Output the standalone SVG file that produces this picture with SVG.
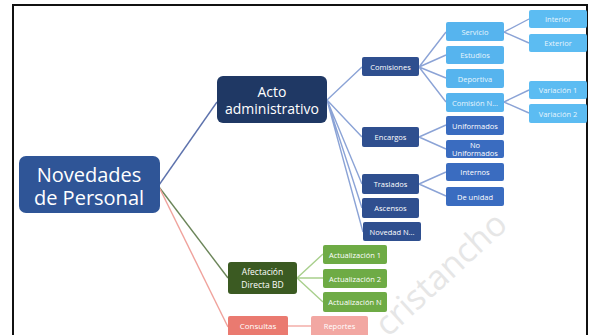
<svg xmlns="http://www.w3.org/2000/svg" width="596" height="335" viewBox="0 0 596 335">
<style>
text{font-family:"Open Sans","Liberation Sans",sans-serif;text-anchor:middle;fill:#fff}
.s{font-size:7.5px}
.navy{fill:#1f3864}
.dk{fill:#2f4f8f}
.md{fill:#3a6cc0}
.lt{fill:#56b4ee}
.lt2{fill:#5cbcf2}
.gd{fill:#3b5a22}
.gl{fill:#6eab45}
.ps{fill:#ea7a70}
.pl{fill:#f2a7a2}
.lb{stroke:#8ba3d6;stroke-width:1.4;fill:none}
.lg{stroke:#a8cf8c;stroke-width:1.4;fill:none}
.lp{stroke:#f3a8a3;stroke-width:1.4;fill:none}
.ltt{fill:#e6f4fd}
</style>
<rect x="0" y="0" width="596" height="335" fill="#fff"/>
<path d="M13 340 V5 H587 V340" fill="none" stroke="#111" stroke-width="2"/>
<text x="388" y="338" transform="rotate(-42.5 388 338)" style="font-size:34px;fill:#e6e6e6;text-anchor:start">cristancho</text>
<g id="connectors">
<path class="lb" d="M159 185 L217 102" style="stroke:#5e73ad"/>
<path class="lg" d="M159 187 L228 278" style="stroke:#6b8559"/>
<path class="lp" d="M159 187 L228 327" style="stroke:#f0a29c"/>
<path class="lb" d="M327 100 L362 67 M327 100 L362 137 M327 100 L362 184 M327 100 L362 208 M327 100 L363 232"/>
<path class="lb" d="M419 67 L446 32 M419 67 L446 55 M419 67 L446 78 M419 67 L446 102"/>
<path class="lb" d="M504 32 L529 19 M504 32 L529 43 M504 102 L529 90 M504 102 L529 113"/>
<path class="lb" d="M419 137 L446 125 M419 137 L446 149 M419 184 L446 172 M419 184 L446 196"/>
<path class="lg" d="M297 278 L323 254 M297 278 L323 278 M297 278 L323 302"/>
<path class="lp" d="M288 326 L311 326"/>
</g>
<g id="root"><rect x="19" y="156" width="141" height="57" rx="7" fill="#2f5597"/><text x="89" y="182" style="font-size:20px">Novedades</text><text x="89" y="205" style="font-size:20px">de Personal</text></g>
<g id="acto"><rect class="navy" x="217" y="76" width="110" height="47" rx="6"/><text x="272" y="97" style="font-size:14px">Acto</text><text x="272" y="114" style="font-size:14px">administrativo</text></g>
<g id="comisiones"><rect class="dk" x="362" y="57" width="57" height="19" rx="2"/><text class="s" x="390.5" y="69.5">Comisiones</text></g>
<g id="encargos"><rect class="dk" x="362" y="127" width="57" height="20" rx="2"/><text class="s" x="390.5" y="140">Encargos</text></g>
<g id="traslados"><rect class="dk" x="362" y="174" width="57" height="20" rx="2"/><text class="s" x="390.5" y="187">Traslados</text></g>
<g id="ascensos"><rect class="dk" x="362" y="198" width="57" height="20" rx="2"/><text class="s" x="390.5" y="211">Ascensos</text></g>
<g id="novedadn"><rect class="dk" x="363" y="222" width="58" height="19" rx="2"/><text class="s" x="392" y="234.5">Novedad N...</text></g>
<g id="servicio"><rect class="lt" x="446" y="22" width="58" height="19" rx="2"/><text class="s ltt" x="475" y="34.5">Servicio</text></g>
<g id="estudios"><rect class="lt" x="446" y="46" width="58" height="18" rx="2"/><text class="s ltt" x="475" y="58">Estudios</text></g>
<g id="deportiva"><rect class="lt" x="446" y="69" width="58" height="19" rx="2"/><text class="s ltt" x="475" y="81.5">Deportiva</text></g>
<g id="comisionn"><rect class="lt" x="446" y="93" width="58" height="19" rx="2"/><text class="s ltt" x="475" y="105.5">Comisión N...</text></g>
<g id="interior"><rect class="lt2" x="529" y="10" width="58" height="18" rx="2"/><text class="s ltt" x="558" y="22">Interior</text></g>
<g id="exterior"><rect class="lt2" x="529" y="34" width="58" height="18" rx="2"/><text class="s ltt" x="558" y="46">Exterior</text></g>
<g id="variacion1"><rect class="lt2" x="529" y="81" width="58" height="18" rx="2"/><text class="s ltt" x="558" y="93">Variación 1</text></g>
<g id="variacion2"><rect class="lt2" x="529" y="104" width="58" height="19" rx="2"/><text class="s ltt" x="558" y="116.5">Variación 2</text></g>
<g id="uniformados"><rect class="md" x="446" y="116" width="58" height="19" rx="2"/><text class="s" x="475" y="128.5">Uniformados</text></g>
<g id="nouniformados"><rect class="md" x="446" y="140" width="58" height="18" rx="2"/><text class="s" x="475" y="147.5">No</text><text class="s" x="475" y="155.5">Uniformados</text></g>
<g id="internos"><rect class="md" x="446" y="163" width="58" height="18" rx="2"/><text class="s" x="475" y="175">Internos</text></g>
<g id="deunidad"><rect class="md" x="446" y="187" width="58" height="19" rx="2"/><text class="s" x="475" y="199.5">De unidad</text></g>
<g id="afectacion"><rect class="gd" x="228" y="262" width="69" height="32" rx="3"/><text x="262.5" y="275" style="font-size:8.5px">Afectación</text><text x="262.5" y="288" style="font-size:8.5px">Directa BD</text></g>
<g id="act1"><rect class="gl" x="323" y="245" width="64" height="19" rx="2"/><text class="s" x="355" y="257.5">Actualización 1</text></g>
<g id="act2"><rect class="gl" x="323" y="269" width="64" height="19" rx="2"/><text class="s" x="355" y="281.5">Actualización 2</text></g>
<g id="actn"><rect class="gl" x="323" y="292" width="64" height="20" rx="2"/><text class="s" x="355" y="305">Actualización N</text></g>
<g id="consultas"><rect class="ps" x="228" y="316" width="60" height="22" rx="2"/><text x="258" y="329" style="font-size:8px">Consultas</text></g>
<g id="reportes"><rect class="pl" x="311" y="316" width="57" height="22" rx="2"/><text class="s" x="339.5" y="329">Reportes</text></g>
</svg>
